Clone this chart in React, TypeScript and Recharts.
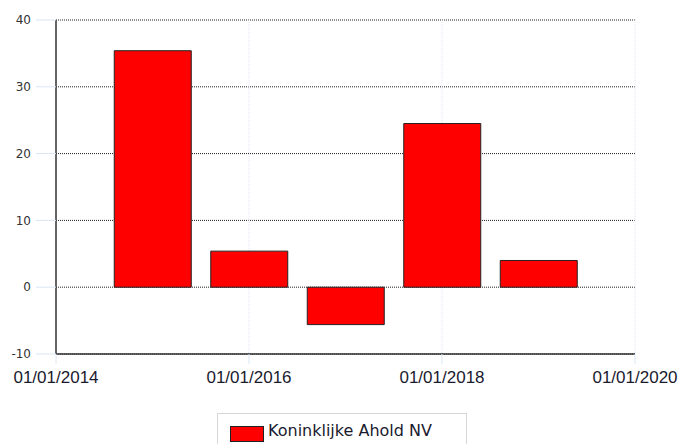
import { BarChart, Bar, XAxis, YAxis, CartesianGrid, Legend } from "recharts";

const years = [2015, 2016, 2017, 2018, 2019];
const values = [35.4, 5.4, -5.6, 24.5, 4.0];
const xTicks = [2014, 2016, 2018, 2020];
const yTicks = [-10, 0, 10, 20, 30, 40];
const seriesName = "Koninklijke Ahold NV";

const data = years.map((y, i) => ({ year: y, value: values[i] }));

const LegendBox = () => (
  <div
    style={{
      position: "absolute",
      left: 217,
      top: 413,
      width: 250,
      height: 40,
      border: "1px solid #d6d6d6",
      boxSizing: "border-box",
      background: "#fff",
    }}
  >
    <div
      style={{
        position: "absolute",
        left: 12,
        top: 12,
        width: 32,
        height: 14,
        background: "#ff0000",
        border: "1px solid #222",
      }}
    />
    <span
      style={{
        position: "absolute",
        left: 50,
        top: 7,
        fontFamily: "DejaVu Sans, sans-serif",
        fontSize: 16,
        color: "#1a1a2e",
        whiteSpace: "nowrap",
      }}
    >
      {seriesName}
    </span>
  </div>
);

export default function App() {
  return (
    <div style={{ position: "absolute", left: 0, top: 0, width: 678, height: 444, overflow: "hidden", background: "#fff" }}>
      <BarChart width={678} height={444} data={data} margin={{ top: 20, right: 43, left: 0, bottom: 0 }}>
        <CartesianGrid vertical={false} stroke="#222" strokeDasharray="1 1" />
        <CartesianGrid horizontal={false} stroke="#e0e8f4" strokeDasharray="1 1" />
        <XAxis
          type="number"
          dataKey="year"
          domain={[2014, 2020]}
          ticks={xTicks}
          tickFormatter={(v) => `01/01/${v}`}
          axisLine={{ stroke: "#333", strokeWidth: 1.5 }}
          tickLine={{ stroke: "#dbe6f4" }}
          tickSize={10}
          tickMargin={7}
          height={90}
          tick={{ fontFamily: "Liberation Sans, Arial, sans-serif", fontSize: 17, fill: "#1a1a2e" }}
          interval={0}
        />
        <YAxis
          domain={[-10, 40]}
          ticks={yTicks}
          width={56}
          axisLine={{ stroke: "#333", strokeWidth: 1.5 }}
          tickLine={{ stroke: "#dbe6f4" }}
          tickSize={20}
          tickMargin={5}
          tick={{ fontFamily: "DejaVu Sans, sans-serif", fontSize: 12, fill: "#333" }}
          interval={0}
        />
        <Legend content={() => null} />
        <Bar dataKey="value" name={seriesName} fill="#ff0000" stroke="#222" strokeWidth={1} barSize={77} isAnimationActive={false} />
      </BarChart>
      <LegendBox />
    </div>
  );
}
